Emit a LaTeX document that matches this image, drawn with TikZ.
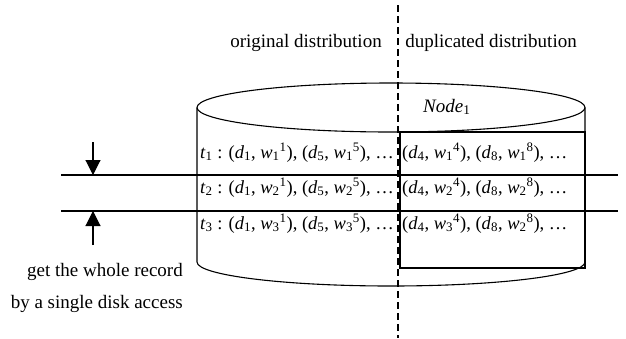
\documentclass[tikz,border=0pt]{standalone}
\usepackage{fontspec}
\setmainfont{Liberation Serif}
\usetikzlibrary{arrows.meta}
\newcommand\vi[1]{\textit{#1}}
\newcommand\dw[3]{(\vi{d}\textsubscript{#1}, \vi{w}\textsubscript{#2}\textsuperscript{#3})}
\begin{document}
\begin{tikzpicture}[x=1pt,y=-1pt,
  lbl/.style={inner sep=0pt, font=\fontsize{19}{22}\selectfont},
  rowtxt/.style={inner sep=0pt, anchor=base west, font=\fontsize{18.5}{22}\selectfont},
  thinline/.style={line width=1.1pt},
  sepline/.style={line width=1.5pt},
  boxline/.style={line width=2.8pt, line join=miter},
  divider/.style={line width=1.2pt, dash pattern=on 7pt off 4pt},
  pointer/.style={line width=1.1pt, -{Triangle[width=15pt,length=15pt]}}]
\useasboundingbox (0,0) rectangle (626,338);

% column headings
\node[lbl, anchor=base] (orig) at (306,47) {original distribution};
\node[lbl, anchor=base] (dup) at (491,47) {duplicated distribution};

% the disk: cylinder outline
\draw[thinline] (391,107.5) ellipse [x radius=194, y radius=24.5];
\draw[thinline] (197,107.5) -- (197,262)
  arc [start angle=180, end angle=360, x radius=194, y radius=-24]
  -- (585,107.5);
\node[lbl, anchor=base west] (node1) at (423,112) {\vi{Node}\textsubscript{1}};

% duplicated part of the records
\draw[boxline] (400,132) rectangle (585,268);

% record boundaries
\coordinate (l1a) at (61,175);
\coordinate (l1b) at (618,175);
\coordinate (l2a) at (61,211);
\coordinate (l2b) at (618,211);
\draw[sepline] (l1a) -- (l1b);
\draw[sepline] (l2a) -- (l2b);

% records, original part
\node[rowtxt] (r1o) at (200,158) {\vi{t}\textsubscript{1} : \dw{1}{1}{1}, \dw{5}{1}{5}, \dots};
\node[rowtxt] (r2o) at (200,193) {\vi{t}\textsubscript{2} : \dw{1}{2}{1}, \dw{5}{2}{5}, \dots};
\node[rowtxt] (r3o) at (200,229) {\vi{t}\textsubscript{3} : \dw{1}{3}{1}, \dw{5}{3}{5}, \dots};
% records, duplicated part
\node[rowtxt] (r1d) at (402,158) {\dw{4}{1}{4}, \dw{8}{1}{8}, \dots};
\node[rowtxt] (r2d) at (402,193) {\dw{4}{2}{4}, \dw{8}{2}{8}, \dots};
\node[rowtxt] (r3d) at (402,229) {\dw{4}{3}{4}, \dw{8}{2}{8}, \dots};

% dividing line between the two distributions
\coordinate (dtop) at (398,5);
\coordinate (dbot) at (398,338);
\draw[divider] (dtop) -- (dbot);

% single access arrows
\coordinate (a1s) at (93,142);
\coordinate (a1e) at (93,175);
\coordinate (a2s) at (93,245);
\coordinate (a2e) at (93,211);
\draw[pointer] (a1s) -- (a1e);
\draw[pointer] (a2s) -- (a2e);

\node[lbl, anchor=base east] (note1) at (183,276) {get the whole record};
\node[lbl, anchor=base east] (note2) at (183,308) {by a single disk access};
\end{tikzpicture}
\end{document}
